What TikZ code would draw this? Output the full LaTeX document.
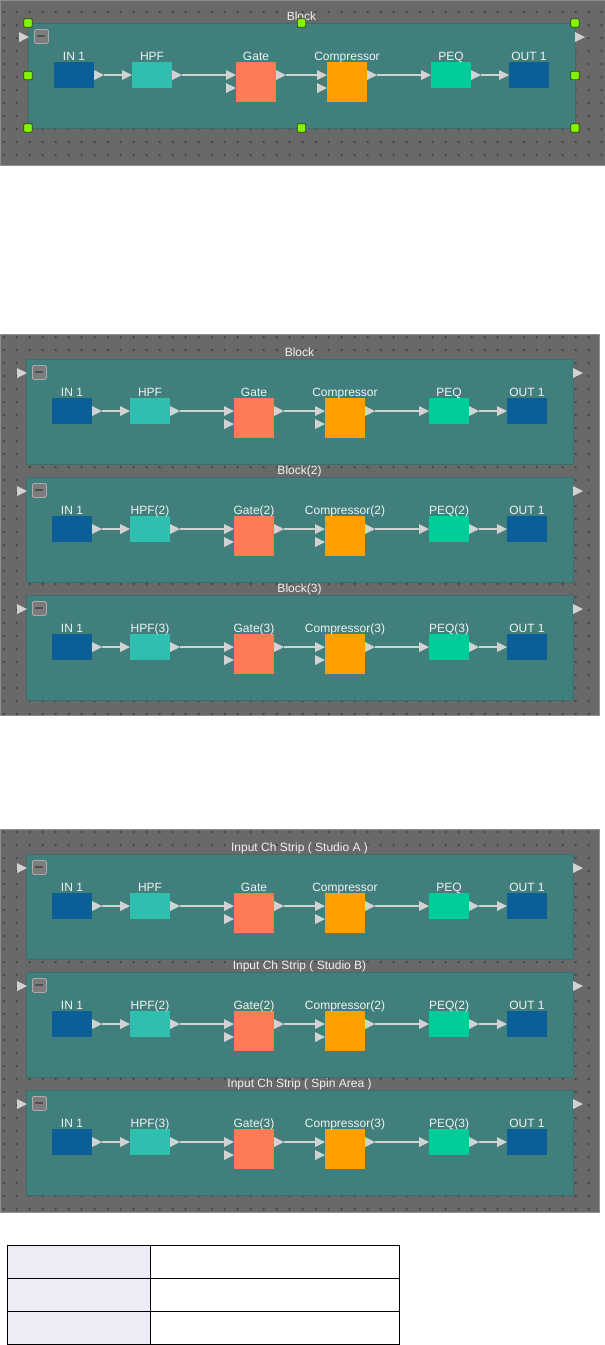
\documentclass[tikz,border=0pt]{standalone}
\usepackage{fontspec}
\setmainfont{Liberation Sans}
\definecolor{bgc}{HTML}{696969}
\definecolor{panedge}{HTML}{8E8E8E}
\definecolor{dotc}{HTML}{474747}
\definecolor{tealc}{HTML}{417F7D}
\definecolor{tealedge}{HTML}{3A6F6D}
\definecolor{ioc}{HTML}{0A5F96}
\definecolor{hpfc}{HTML}{2FBFAE}
\definecolor{gatec}{HTML}{FF7B55}
\definecolor{compc}{HTML}{FFA000}
\definecolor{peqc}{HTML}{00CC99}
\definecolor{portc}{HTML}{D2D2D2}
\definecolor{txtc}{HTML}{F2F2F2}
\definecolor{btnc}{HTML}{7C7C7C}
\definecolor{btnedge}{HTML}{ABABAB}
\definecolor{btndash}{HTML}{505050}
\definecolor{handlec}{HTML}{84F500}
\definecolor{handleedge}{HTML}{2E4A0A}
\definecolor{cellc}{HTML}{ECEBF6}
\tikzset{
  panel/.style={fill=bgc,draw=panedge,line width=0.8pt},
  blk/.style={fill=tealc,draw=tealedge,line width=0.6pt,minimum width=547pt,minimum height=105pt,anchor=north west,inner sep=0pt,outer sep=0pt},
  modbox/.style={minimum width=40pt,anchor=north west,inner sep=0pt,outer sep=0pt},
  smallbox/.style={modbox,minimum height=26pt},
  bigbox/.style={modbox,minimum height=40pt},
  lbl/.style={text=txtc,font=\fontsize{12}{14}\selectfont,anchor=base,inner sep=0pt},
  wire/.style={draw=portc,line width=1.6pt},
  portfill/.style={fill=portc},
  btn/.style={fill=btnc,draw=btnedge,line width=0.8pt,rounded corners=1.5pt,minimum width=14pt,minimum height=14pt,anchor=north west,inner sep=0pt},
  btnline/.style={draw=btndash,line width=2pt},
  handle/.style={fill=handlec,draw=handleedge,line width=0.8pt,minimum width=8.5pt,minimum height=8.5pt,inner sep=0pt,rounded corners=1pt},
  cellA/.style={fill=cellc,draw=black,line width=1pt,minimum width=143pt,minimum height=33pt,anchor=north west,inner sep=0pt},
  cellB/.style={fill=white,draw=black,line width=1pt,minimum width=249pt,minimum height=33pt,anchor=north west,inner sep=0pt}
}
\newcommand\outp[1]{\fill[portfill] (#1) ++(0,-5) -- ++(10,5) -- ++(-10,5) -- cycle;}
\newcommand\inp[1]{\fill[portfill] (#1) ++(-10,-5) -- ++(10,5) -- ++(-10,5) -- cycle;}
\newcommand\chstrip[5]{%
  \node[blk] (#1) at (#2,#3) {};
  \node[lbl] (#1-t) at ([yshift=3pt]#1.north) {#4};
  \node[btn] (#1-b) at (#2+6,#3+6) {};
  \draw[btnline] ([xshift=-4pt]#1-b.center) -- ([xshift=4pt]#1-b.center);
  \inp{[xshift=1pt,yshift=-14pt]#1.north west}
  \outp{[yshift=-14pt]#1.north east}
  \node[smallbox,fill=ioc] (#1-in) at (#2+26,#3+39) {};
  \node[smallbox,fill=hpfc] (#1-hpf) at (#2+104,#3+39) {};
  \node[bigbox,fill=gatec] (#1-gate) at (#2+208,#3+39) {};
  \node[bigbox,fill=compc] (#1-comp) at (#2+299,#3+39) {};
  \node[smallbox,fill=peqc] (#1-peq) at (#2+403,#3+39) {};
  \node[smallbox,fill=ioc] (#1-out) at (#2+481,#3+39) {};
  \node[lbl] (#1-inl) at ([yshift=2pt]#1-in.north) {IN 1};
  \node[lbl] (#1-hpfl) at ([yshift=2pt]#1-hpf.north) {HPF#5};
  \node[lbl] (#1-gatel) at ([yshift=2pt]#1-gate.north) {Gate#5};
  \node[lbl] (#1-compl) at ([yshift=2pt]#1-comp.north) {Compressor#5};
  \node[lbl] (#1-peql) at ([yshift=2pt]#1-peq.north) {PEQ#5};
  \node[lbl] (#1-outl) at ([yshift=2pt]#1-out.north) {OUT 1};
  \draw[wire] ([xshift=10pt]#1-in.east) -- ([xshift=-10pt]#1-hpf.west);
  \draw[wire] ([xshift=10pt]#1-hpf.east) -- ([xshift=-10pt,yshift=-13pt]#1-gate.north west);
  \draw[wire] ([xshift=10pt,yshift=-13pt]#1-gate.north east) -- ([xshift=-10pt,yshift=-13pt]#1-comp.north west);
  \draw[wire] ([xshift=10pt,yshift=-13pt]#1-comp.north east) -- ([xshift=-10pt]#1-peq.west);
  \draw[wire] ([xshift=10pt]#1-peq.east) -- ([xshift=-10pt]#1-out.west);
  \outp{#1-in.east}
  \inp{#1-hpf.west}
  \outp{#1-hpf.east}
  \inp{[yshift=-13pt]#1-gate.north west}
  \inp{[yshift=-26pt]#1-gate.north west}
  \outp{[yshift=-13pt]#1-gate.north east}
  \inp{[yshift=-13pt]#1-comp.north west}
  \inp{[yshift=-26pt]#1-comp.north west}
  \outp{[yshift=-13pt]#1-comp.north east}
  \inp{#1-peq.west}
  \outp{#1-peq.east}
  \inp{#1-out.west}
}
\begin{document}
\begin{tikzpicture}[x=1pt,y=-1pt]
\useasboundingbox (0,0) rectangle (605,1345);
% panel 1
\fill[panel] (0,0) rectangle (605,165);
\begin{scope}
\clip (0,0) rectangle (605,165);
\fill[dotc] \foreach \i in {0,...,46} {\foreach \j in {0,...,11} {(2.7+13*\i,11+13*\j) rectangle ++(2,2)}};
\end{scope}
\chstrip{p1a}{28}{23}{Block}{}
\foreach \n/\a in {h1/north west,h2/north,h3/north east,h4/west,h5/east,h6/south west,h7/south,h8/south east}
  {\node[handle] (\n) at (p1a.\a) {};}
% panel 2
\fill[panel] (0,334) rectangle (599,715);
\begin{scope}
\clip (0,334) rectangle (599,715);
\fill[dotc] \foreach \i in {0,...,45} {\foreach \j in {0,...,29} {(2.7+13*\i,336+13*\j) rectangle ++(2,2)}};
\end{scope}
\chstrip{p2a}{26}{359}{Block}{}
\chstrip{p2b}{26}{477}{Block(2)}{(2)}
\chstrip{p2c}{26}{595}{Block(3)}{(3)}
% panel 3
\fill[panel] (0,829) rectangle (599,1212);
\begin{scope}
\clip (0,829) rectangle (599,1212);
\fill[dotc] \foreach \i in {0,...,45} {\foreach \j in {0,...,29} {(2.7+13*\i,831+13*\j) rectangle ++(2,2)}};
\end{scope}
\chstrip{p3a}{26}{854}{Input Ch Strip ( Studio A )}{}
\chstrip{p3b}{26}{972}{Input Ch Strip ( Studio B)}{(2)}
\chstrip{p3c}{26}{1090}{Input Ch Strip ( Spin Area )}{(3)}
% table
\node[cellA] (r1a) at (7,1245) {};
\node[cellB] (r1b) at (150,1245) {};
\node[cellA] (r2a) at (7,1278) {};
\node[cellB] (r2b) at (150,1278) {};
\node[cellA] (r3a) at (7,1311) {};
\node[cellB] (r3b) at (150,1311) {};
\end{tikzpicture}
\end{document}
